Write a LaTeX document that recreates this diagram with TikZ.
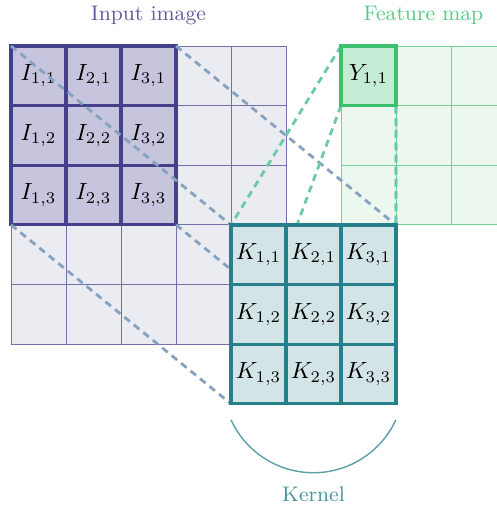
\documentclass[tikz,border=0pt]{standalone}
\usepackage{tikz}
\definecolor{inputdark}{HTML}{453F8C}
\definecolor{inputlight}{HTML}{EBEBF2}
\definecolor{inputmid}{HTML}{C6C5DD}
\definecolor{featdark}{HTML}{3DBF6E}
\definecolor{featlight}{HTML}{ECF7F0}
\definecolor{featmid}{HTML}{C4ECD4}
\definecolor{kerneldark}{HTML}{267F8A}
\definecolor{kernellight}{HTML}{D3E4E6}
\definecolor{dashblue}{HTML}{86A2BE}
\definecolor{dashgreen}{HTML}{6CCAA8}

\begin{document}
\begin{tikzpicture}[%
x=0.015cm,y=-0.015cm,
cell/.style={minimum width=0.825cm,minimum height=0.894cm,inner sep=0pt,outer sep=0pt,draw},
incell/.style={cell,draw=inputdark!75,fill=inputlight,line width=0.4pt},
inhigh/.style={cell,draw=inputdark,fill=inputmid,line width=1.3pt},
featcell/.style={cell,draw=featdark!70,fill=featlight,line width=0.4pt},
feathigh/.style={cell,draw=featdark,fill=featmid,line width=1.3pt},
kernelcell/.style={cell,draw=kerneldark,fill=kernellight,line width=1.3pt},
blueline/.style={draw=dashblue,line width=1.2pt,dash pattern=on 3pt off 2.2pt},
greenline/.style={draw=dashgreen,line width=1.2pt,dash pattern=on 3pt off 2.2pt},
label/.style={font=\small}
]
\clip (0,0) rectangle (497,506);
\foreach \i in {1,...,5}
  \foreach \j in {1,...,5}
    \node[style=incell] (in-\i-\j) at ({11+55*(\i-0.5)},{46+59.6*(\j-0.5)}) {};
\foreach \i in {1,2,3}
  \foreach \j in {1,2,3}
    \node[style=inhigh] (ih-\i-\j) at (in-\i-\j) {$I_{\i,\j}$};
\foreach \i in {1,2,3}
  \foreach \j in {1,2,3}
    \node[style=featcell] (y-\i-\j) at ({341+55*(\i-0.5)},{46+59.6*(\j-0.5)}) {};
\foreach \i in {1,2,3}
  \foreach \j in {1,2,3}
    \coordinate (k-\i-\j) at ({231+55*(\i-0.5)},{225+59.6*(\j-0.5)});
\coordinate (k nw) at (231,225);
\coordinate (k ne) at (396,225);
\coordinate (k sw) at (231,403.8);
\coordinate (k se) at (396,403.8);
\path[style=blueline] (ih-1-1.north west) -- (k nw);
\path[style=blueline] (ih-3-1.north east) -- (k ne);
\path[style=blueline] (ih-1-3.south west) -- (k sw);
\path[style=blueline] (ih-3-3.south east) -- (k se);
\path[style=greenline] (y-1-1.north west) -- (k nw);
\path[style=greenline] (y-1-1.north east) -- (k ne);
\path[style=greenline] (y-1-1.south west) -- (k sw);
\path[style=greenline] (y-1-1.south east) -- (k se);
\node[style=feathigh] (y11) at (y-1-1) {$Y_{1,1}$};
\foreach \i in {1,2,3}
  \foreach \j in {1,2,3}
    \node[style=kernelcell] (kc-\i-\j) at (k-\i-\j) {$K_{\i,\j}$};
\draw[draw=kerneldark!75,line width=0.6pt] (kc-1-3.south west) ++(0,16)
  arc[start angle=204.6,end angle=335.4,radius=1.36cm];
\node[style=label,text=inputdark!85] (input label) at (148.5,15) {Input image};
\node[style=label,text=featdark!85] (feature label) at (423.5,15) {Feature map};
\node[style=label,text=kerneldark!85] (kernel label) at (313.5,494) {Kernel};
\end{tikzpicture}
\end{document}
